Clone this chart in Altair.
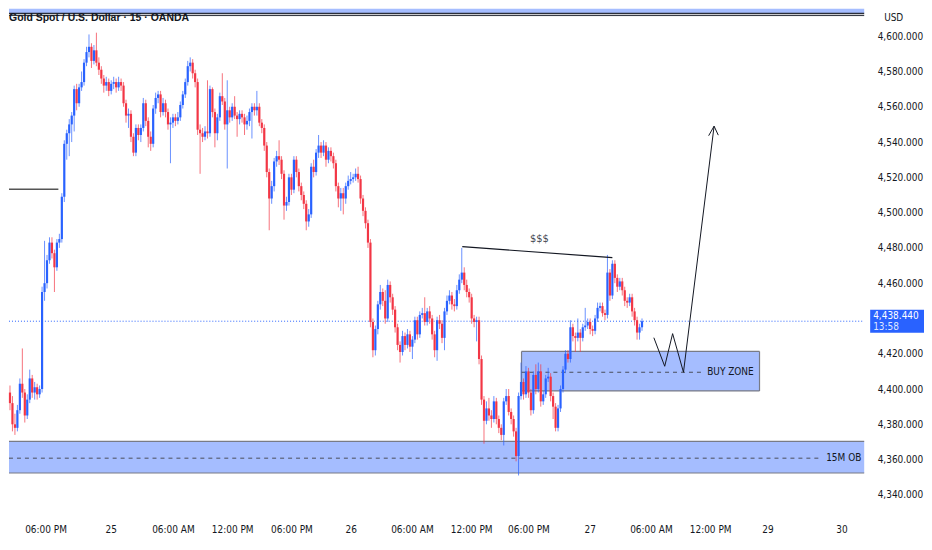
import altair as alt
import pandas as pd

# ---------------- data ----------------
first_open = 4398.0
closes = [
    4392, 4380, 4378, 4388, 4403, 4398, 4385, 4394, 4406, 4398,
    4401, 4397, 4400, 4455, 4460, 4473, 4483, 4477, 4469, 4483,
    4485, 4509, 4539, 4545, 4550, 4555, 4570, 4562, 4571, 4574,
    4585, 4591, 4594, 4586, 4592, 4585, 4581, 4576, 4572, 4574,
    4569, 4573, 4574, 4571, 4574, 4572, 4562, 4555, 4556, 4543,
    4534, 4548, 4544, 4548, 4562, 4552, 4543, 4539, 4559, 4565,
    4567, 4557, 4562, 4557, 4550, 4551, 4554, 4552, 4554, 4561,
    4567, 4574, 4583, 4585, 4579, 4574, 4547, 4545, 4543, 4546,
    4545, 4570, 4557, 4545, 4554, 4566, 4563, 4550, 4558, 4554,
    4560, 4555, 4553, 4556, 4554, 4550, 4552, 4557, 4560, 4558,
    4560, 4551, 4548, 4538, 4523, 4508, 4515, 4529, 4532, 4530,
    4522, 4504, 4506, 4520, 4513, 4530, 4523, 4515, 4510, 4505,
    4495, 4499, 4526, 4523, 4534, 4538, 4534, 4538, 4530, 4535,
    4532, 4528, 4515, 4508, 4511, 4508, 4515, 4518, 4519, 4520,
    4522, 4519, 4508, 4501, 4494, 4483, 4438, 4422, 4434, 4448,
    4455, 4450, 4440, 4459, 4452, 4445, 4435, 4425, 4421, 4430,
    4425, 4431, 4424, 4428, 4439, 4431, 4442, 4443, 4438, 4444,
    4440, 4431, 4422, 4439, 4437, 4429, 4444, 4450, 4453, 4448,
    4447, 4456, 4462, 4466, 4459, 4455, 4452, 4440, 4438, 4439,
    4417, 4394, 4382, 4389, 4385, 4383, 4393, 4383, 4378, 4374,
    4393, 4396, 4387, 4383, 4376, 4362, 4396, 4404, 4397, 4410,
    4398, 4388, 4408, 4400, 4410, 4393, 4397, 4406, 4407, 4396,
    4390, 4378, 4389, 4400, 4411, 4420, 4417, 4435, 4430, 4429,
    4432, 4429, 4435, 4436, 4438, 4434, 4433, 4440, 4446, 4447,
    4443, 4442, 4466, 4453, 4471, 4463, 4458, 4461, 4456, 4450,
    4449, 4452, 4444, 4439, 4432, 4435, 4438.44,
]
highs = [
    4402, 4396, 4386, 4391, 4406, 4423, 4400, 4397, 4411, 4408,
    4404, 4403, 4402, 4458, 4484, 4476, 4486, 4486, 4479, 4485,
    4488, 4511, 4541, 4547, 4553, 4557, 4572, 4573, 4573, 4580,
    4587, 4594, 4601, 4596, 4595, 4602, 4588, 4583, 4578, 4577,
    4576, 4575, 4577, 4576, 4577, 4576, 4574, 4564, 4559, 4558,
    4545, 4550, 4550, 4550, 4565, 4564, 4554, 4546, 4561, 4568,
    4569, 4569, 4565, 4564, 4559, 4554, 4556, 4556, 4557, 4563,
    4569, 4576, 4586, 4588, 4587, 4581, 4576, 4550, 4548, 4549,
    4575, 4572, 4571, 4559, 4556, 4568, 4579, 4565, 4575, 4560,
    4562, 4566, 4557, 4558, 4558, 4556, 4555, 4559, 4562, 4562,
    4569, 4562, 4553, 4550, 4540, 4525, 4518, 4531, 4535, 4541,
    4532, 4524, 4509, 4522, 4522, 4532, 4532, 4525, 4517, 4512,
    4507, 4502, 4528, 4530, 4536, 4544, 4540, 4541, 4540, 4537,
    4537, 4534, 4530, 4517, 4514, 4514, 4517, 4521, 4523, 4522,
    4525, 4526, 4521, 4510, 4503, 4496, 4485, 4440, 4436, 4450,
    4459, 4457, 4456, 4462, 4461, 4454, 4447, 4437, 4427, 4433,
    4432, 4434, 4433, 4430, 4441, 4441, 4444, 4446, 4452, 4446,
    4447, 4442, 4433, 4441, 4442, 4439, 4446, 4453, 4456, 4455,
    4451, 4459, 4465, 4480, 4469, 4462, 4457, 4454, 4442, 4441,
    4441, 4419, 4396, 4393, 4395, 4388, 4396, 4395, 4385, 4380,
    4395, 4400, 4400, 4389, 4385, 4378, 4398, 4415, 4406, 4413,
    4412, 4400, 4410, 4414, 4415, 4414, 4399, 4408, 4412, 4409,
    4398, 4392, 4391, 4402, 4413, 4422, 4422, 4439, 4437, 4432,
    4440, 4434, 4437, 4446, 4440, 4440, 4436, 4442, 4449, 4449,
    4449, 4445, 4476, 4468, 4473, 4473, 4465, 4463, 4463, 4458,
    4452, 4454, 4454, 4446, 4441, 4437, 4440,
]
lows = [
    4388, 4376, 4374, 4376, 4386, 4395, 4381, 4383, 4392, 4395,
    4394, 4394, 4395, 4398, 4450, 4457, 4471, 4474, 4455, 4467,
    4480, 4483, 4506, 4530, 4532, 4540, 4546, 4558, 4560, 4569,
    4572, 4583, 4588, 4582, 4584, 4583, 4578, 4573, 4568, 4569,
    4566, 4567, 4570, 4568, 4569, 4569, 4560, 4551, 4548, 4540,
    4532, 4532, 4541, 4540, 4546, 4549, 4537, 4535, 4537, 4556,
    4562, 4554, 4555, 4554, 4547, 4528, 4548, 4549, 4550, 4552,
    4559, 4565, 4572, 4580, 4576, 4571, 4544, 4522, 4540, 4541,
    4542, 4543, 4554, 4537, 4541, 4552, 4561, 4547, 4525, 4551,
    4552, 4553, 4543, 4550, 4551, 4544, 4547, 4549, 4542, 4555,
    4555, 4549, 4545, 4535, 4520, 4490, 4505, 4512, 4526, 4527,
    4519, 4496, 4501, 4504, 4510, 4511, 4520, 4512, 4507, 4502,
    4490, 4492, 4497, 4520, 4521, 4531, 4531, 4532, 4526, 4528,
    4529, 4525, 4512, 4503, 4501, 4499, 4505, 4513, 4516, 4517,
    4518, 4517, 4505, 4498, 4491, 4480, 4435, 4418, 4419, 4431,
    4445, 4447, 4437, 4438, 4449, 4442, 4432, 4422, 4415, 4419,
    4422, 4423, 4421, 4417, 4426, 4428, 4429, 4440, 4436, 4436,
    4437, 4428, 4418, 4416, 4434, 4426, 4422, 4442, 4448, 4445,
    4444, 4445, 4454, 4460, 4456, 4452, 4449, 4437, 4435, 4427,
    4414, 4391, 4369, 4380, 4382, 4378, 4381, 4380, 4375, 4371,
    4368, 4391, 4385, 4380, 4373, 4359, 4351, 4394, 4394, 4395,
    4395, 4385, 4386, 4397, 4398, 4390, 4391, 4395, 4404, 4393,
    4383, 4376, 4376, 4387, 4398, 4409, 4415, 4415, 4427, 4421,
    4427, 4421, 4427, 4433, 4434, 4431, 4430, 4431, 4438, 4444,
    4441, 4439, 4440, 4450, 4451, 4460, 4455, 4456, 4453, 4447,
    4446, 4447, 4441, 4436, 4428, 4428, 4433,
]

tick_pos = [14.4, 40.8, 66, 90, 114, 138, 162.8, 186.8, 210, 234.8, 259.6, 283.6, 306.8, 336.8]
tick_labels = ["06:00 PM", "25", "06:00 AM", "12:00 PM", "06:00 PM", "26", "06:00 AM",
               "12:00 PM", "06:00 PM", "27", "06:00 AM", "12:00 PM", "29", "30"]
price_ticks = [4340, 4360, 4380, 4400, 4420, 4460, 4480, 4500, 4520, 4540, 4560, 4580, 4600]

# annotations (candle-index / price units)
buy_zone = {"x": 207.2, "x2": 303.6, "y": 4398.9, "y2": 4421.3, "mid": 4409.5, "dash_end": 280.4, "text_x": 282.4}
ob_zone = {"y": 4352.4, "y2": 4370.3, "mid": 4360.8, "dash_end": 328.6, "text_x": 330.6}
level_line = {"x": -0.4, "x2": 19.6, "y": 4513.2}
liq_line_x = [183.2, 244.0]
liq_line_y = [4480.7, 4474.5]
liq_text = {"x": 214.4, "y": 4485.0, "text": "$$$"}
path_x = [260.8, 265.2, 268.4, 272.8, 285.2]
path_y = [4429.1, 4412.9, 4431.4, 4409.5, 4549.0]
head_x = [283.0, 285.2, 286.9]
head_y = [4543.6, 4549.0, 4543.9]

X0, X1 = -0.4, 346.0
Y0, Y1 = 4331.3, 4615.5
top_zone = {"y": 4612.9, "y2": Y1}
W, H = 858, 503
BLUE = "#2962ff"
RED = "#f23645"
INK = "#131722"
FONT = "DejaVu Sans Condensed, DejaVu Sans, sans-serif"
TFONT = "Liberation Sans, Arial, sans-serif"

opens = [first_open] + closes[:-1]
df = pd.DataFrame({"i": list(range(len(closes))), "open": opens, "high": highs,
                   "low": lows, "close": closes})
df["dir"] = ["up" if c >= o else "down" for o, c in zip(opens, closes)]

xs = alt.Scale(domain=[X0, X1], nice=False, zero=False, padding=0)
ys = alt.Scale(domain=[Y0, Y1], nice=False, zero=False, padding=0)
cs = alt.Scale(domain=["up", "down"], range=[BLUE, RED])

pos_str = ",".join(str(p) for p in tick_pos)
lab_str = ",".join("'" + l + "'" for l in tick_labels)
x_axis = alt.Axis(values=tick_pos, labelExpr=f"[{lab_str}][indexof([{pos_str}], datum.value)]",
                  domain=False, ticks=False, grid=False, labelPadding=14, labelFont=FONT,
                  labelFontSize=10, labelColor=INK, title=None, labelFlush=False)
y_axis = alt.Axis(orient="right", values=price_ticks, format=",.3f", domain=False, ticks=False,
                  grid=False, labelPadding=13, labelFont=FONT, labelFontSize=10, labelColor=INK,
                  title=None)


def X(f):
    return alt.X(f, scale=xs, axis=x_axis)


def Y(f):
    return alt.Y(f, scale=ys, axis=y_axis)


# zones
zones = pd.DataFrame([
    {"x": X0, "x2": X1, "y": top_zone["y"], "y2": top_zone["y2"]},
    {"x": X0, "x2": X1, "y": ob_zone["y"], "y2": ob_zone["y2"]},
    {"x": buy_zone["x"], "x2": buy_zone["x2"], "y": buy_zone["y"], "y2": buy_zone["y2"]},
])
zone_fill = alt.Chart(zones).mark_rect(color=BLUE, opacity=0.42).encode(
    x=X("x:Q"), x2="x2:Q", y=Y("y:Q"), y2="y2:Q")

borders = pd.DataFrame([
    {"x": X0, "x2": X1, "y": top_zone["y"], "w": 1.5, "c": "#2a2e39"},
    {"x": X0, "x2": X1, "y": top_zone["y"] - 1.2, "w": 1.0, "c": "#2a2e39"},
    {"x": X0, "x2": X1, "y": ob_zone["y"], "w": 1.2, "c": "#787b86"},
    {"x": X0, "x2": X1, "y": ob_zone["y2"], "w": 1.2, "c": "#787b86"},
    {"x": buy_zone["x"], "x2": buy_zone["x2"], "y": buy_zone["y"], "w": 1.2, "c": "#787b86"},
    {"x": buy_zone["x"], "x2": buy_zone["x2"], "y": buy_zone["y2"], "w": 1.2, "c": "#787b86"},
])
border_rules = alt.Chart(borders).mark_rule().encode(
    x=X("x:Q"), x2="x2:Q", y=Y("y:Q"),
    color=alt.Color("c:N", scale=None), strokeWidth=alt.StrokeWidth("w:Q", scale=None))

vborders = pd.DataFrame([
    {"x": buy_zone["x"], "y": buy_zone["y"], "y2": buy_zone["y2"]},
    {"x": buy_zone["x2"], "y": buy_zone["y"], "y2": buy_zone["y2"]},
])
vborder_rules = alt.Chart(vborders).mark_rule(color="#787b86", strokeWidth=1.2).encode(
    x=X("x:Q"), y=Y("y:Q"), y2="y2:Q")

dashes = pd.DataFrame([
    {"x": X0, "x2": ob_zone["dash_end"], "y": ob_zone["mid"]},
    {"x": buy_zone["x"], "x2": buy_zone["dash_end"], "y": buy_zone["mid"]},
])
dash_rules = alt.Chart(dashes).mark_rule(color="#4a4e5a", strokeWidth=1, strokeDash=[4, 4]).encode(
    x=X("x:Q"), x2="x2:Q", y=Y("y:Q"))

level = alt.Chart(pd.DataFrame([level_line])).mark_rule(color="#555555", strokeWidth=1.5).encode(
    x=X("x:Q"), x2="x2:Q", y=Y("y:Q"))

# current price line
last = closes[-1]
last_df = pd.DataFrame({"p": [last], "x": [X0], "x2": [X1]})
price_line = alt.Chart(last_df).mark_rule(color=BLUE, strokeWidth=1, strokeDash=[1, 2]).encode(
    x=X("x:Q"), x2="x2:Q", y=Y("p:Q"))

# candles
wicks = alt.Chart(df).mark_rule(strokeWidth=1, opacity=0.7).encode(
    x=X("i:Q"), y=Y("low:Q"), y2="high:Q",
    color=alt.Color("dir:N", scale=cs, legend=None))
bodies = alt.Chart(df).mark_bar(size=2.2).encode(
    x=X("i:Q"), y=Y("open:Q"), y2="close:Q",
    color=alt.Color("dir:N", scale=cs, legend=None))

# liquidity line
liq = pd.DataFrame({"x": liq_line_x, "y": liq_line_y, "o": [0, 1]})
liq_line = alt.Chart(liq).mark_line(color=INK, strokeWidth=1.2).encode(
    x=X("x:Q"), y=Y("y:Q"), order="o:Q")

# projection path and arrow head
proj = pd.DataFrame({"x": path_x, "y": path_y, "o": list(range(len(path_x)))})
proj_line = alt.Chart(proj).mark_line(color=INK, strokeWidth=1).encode(
    x=X("x:Q"), y=Y("y:Q"), order="o:Q")
head = pd.DataFrame({"x": head_x, "y": head_y, "o": [0, 1, 2]})
head_line = alt.Chart(head).mark_line(color=INK, strokeWidth=1).encode(
    x=X("x:Q"), y=Y("y:Q"), order="o:Q")

# texts
ann_c = alt.Chart(pd.DataFrame([{"x": liq_text["x"], "y": liq_text["y"], "t": liq_text["text"]}])).mark_text(
    font=FONT, fontSize=11, color="#434651", align="center", baseline="middle").encode(
    x=X("x:Q"), y=Y("y:Q"), text="t:N")
ann_l = alt.Chart(pd.DataFrame([
    {"x": buy_zone["text_x"], "y": buy_zone["mid"], "t": "BUY ZONE"},
    {"x": ob_zone["text_x"], "y": ob_zone["mid"], "t": "15M OB"},
])).mark_text(font=FONT, fontSize=10, color=INK, align="left", baseline="middle").encode(
    x=X("x:Q"), y=Y("y:Q"), text="t:N")

title = alt.Chart(pd.DataFrame({"t": ["Gold Spot / U.S. Dollar · 15 · OANDA"]})).mark_text(
    font=TFONT, fontSize=10.5, fontWeight="bold", color=INK, align="left", baseline="middle").encode(
    x=alt.value(0), y=alt.value(9), text="t:N")

# right-hand price badge and USD box (rects, so their bounds stay tight)
half = 11.5 * (Y1 - Y0) / H
badge_df = pd.DataFrame({"p": [last + half], "p2": [last - half]})
badge = alt.Chart(badge_df).mark_rect(color=BLUE).encode(
    x=alt.value(W + 6), x2=alt.value(W + 60), y=Y("p:Q"), y2="p2:Q")
badge_t1 = alt.Chart(pd.DataFrame({"p": [last], "t": ["4,438.440"]})).mark_text(
    font=FONT, fontSize=10, color="white", align="left", baseline="middle", dy=-5).encode(
    x=alt.value(W + 9), y=Y("p:Q"), text="t:N")
badge_t2 = alt.Chart(pd.DataFrame({"p": [last], "t": ["13:58"]})).mark_text(
    font=FONT, fontSize=10, color="#dfe6ff", align="left", baseline="middle", dy=6).encode(
    x=alt.value(W + 9), y=Y("p:Q"), text="t:N")
usd_box = alt.Chart(pd.DataFrame({"a": [0]})).mark_rect(color="white").encode(
    x=alt.value(W + 10), x2=alt.value(W + 60), y=alt.value(0), y2=alt.value(20))
usd_t = alt.Chart(pd.DataFrame({"t": ["USD"]})).mark_text(font=FONT, fontSize=10, color=INK,
                                                         align="left", baseline="middle").encode(
    x=alt.value(W + 20), y=alt.value(9), text="t:N")

chart = alt.layer(
    zone_fill, border_rules, vborder_rules, dash_rules, level, price_line,
    wicks, bodies, liq_line, proj_line, head_line, ann_c, ann_l, title,
    badge, badge_t1, badge_t2, usd_box, usd_t,
).properties(
    width=W, height=H, background="white", padding=0,
).configure_view(stroke=None)

chart.save("out.html", embed_options={"renderer": "svg", "actions": False})
